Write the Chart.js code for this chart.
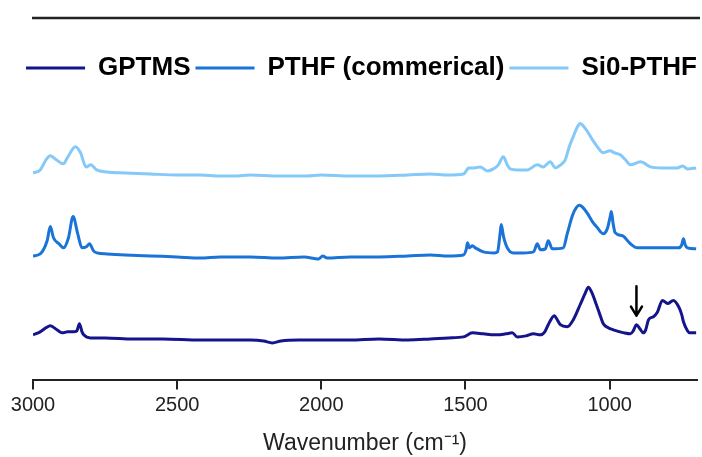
<!DOCTYPE html>
<html>
<head>
<meta charset="utf-8">
<script src="https://cdn.jsdelivr.net/npm/chart.js@4.4.1/dist/chart.umd.min.js"></script>
<style>
    html, body { margin: 0; padding: 0; background: #fff; }
    #wrap { width: 702px; height: 457px; }
</style>
</head>
<body>
<div id="wrap"><canvas id="ftir"></canvas></div>
<script>
// FTIR spectra, stacked with a vertical offset (a.u.)
var seriesNames = ['GPTMS', 'PTHF (commerical)', 'Si0-PTHF'];
var seriesColors = ['#14148c', '#1a74d8', '#84c9f8'];
var xTicks = [3000, 2500, 2000, 1500, 1000];

var gptmsWn = [3000, 2975, 2955, 2940, 2917, 2899, 2880, 2859, 2848, 2839, 2830, 2824, 2801, 2750, 2652, 2550,
    2420, 2305, 2246, 2200, 2170, 2140, 2080, 2000, 1900, 1800, 1700, 1622, 1560, 1507, 1476, 1438, 1400, 1389,
    1360, 1338, 1320, 1290, 1264, 1240, 1225, 1213, 1192, 1180, 1171, 1147, 1126, 1102, 1085, 1074, 1062, 1050,
    1035, 1022, 1005, 987, 950, 928, 918, 907, 895, 883, 875, 865, 848, 835, 817, 799, 779, 761, 750, 744, 730,
    723, 700];
var gptmsAbs = [0.45, 0.48, 0.52, 0.54, 0.50, 0.47, 0.48, 0.48, 0.49, 0.56, 0.48, 0.45, 0.42, 0.42, 0.41, 0.41,
    0.40, 0.40, 0.40, 0.39, 0.37, 0.39, 0.40, 0.40, 0.40, 0.41, 0.40, 0.41, 0.42, 0.43, 0.47, 0.46, 0.45, 0.45,
    0.46, 0.47, 0.43, 0.44, 0.46, 0.45, 0.48, 0.55, 0.64, 0.59, 0.55, 0.53, 0.60, 0.75, 0.86, 0.92, 0.87, 0.78,
    0.66, 0.56, 0.52, 0.50, 0.47, 0.46, 0.49, 0.55, 0.51, 0.47, 0.50, 0.60, 0.63, 0.67, 0.79, 0.76, 0.79, 0.73,
    0.65, 0.58, 0.49, 0.47, 0.47];

var pthfWn = [3000, 2975, 2951, 2940, 2929, 2910, 2894, 2877, 2861, 2845, 2830, 2815, 2804, 2790, 2778, 2743,
    2680, 2593, 2500, 2420, 2350, 2246, 2150, 2060, 2010, 1995, 1980, 1900, 1800, 1700, 1622, 1560, 1507, 1497,
    1493, 1486, 1476, 1466, 1438, 1400, 1389, 1380, 1376, 1368, 1355, 1334, 1300, 1264, 1251, 1240, 1223, 1213,
    1199, 1161, 1147, 1129, 1115, 1105, 1090, 1077, 1060, 1043, 1022, 1008, 998, 994, 988, 981, 956, 928, 904,
    860, 813, 761, 750, 744, 738, 730, 700];
var pthfAbs = [1.23, 1.25, 1.38, 1.52, 1.41, 1.35, 1.31, 1.41, 1.62, 1.45, 1.31, 1.32, 1.35, 1.28, 1.26, 1.25,
    1.24, 1.23, 1.22, 1.21, 1.22, 1.22, 1.21, 1.22, 1.20, 1.23, 1.21, 1.22, 1.22, 1.23, 1.24, 1.23, 1.24, 1.30,
    1.36, 1.31, 1.33, 1.31, 1.27, 1.26, 1.27, 1.45, 1.54, 1.42, 1.31, 1.26, 1.26, 1.27, 1.35, 1.29, 1.30, 1.38,
    1.30, 1.31, 1.45, 1.63, 1.71, 1.73, 1.70, 1.65, 1.57, 1.51, 1.45, 1.50, 1.62, 1.67, 1.55, 1.46, 1.43, 1.35,
    1.31, 1.31, 1.31, 1.31, 1.34, 1.40, 1.34, 1.31, 1.30];

var si0Wn = [3000, 2975, 2955, 2940, 2919, 2895, 2879, 2853, 2835, 2816, 2800, 2779, 2744, 2680, 2593, 2500,
    2420, 2350, 2300, 2246, 2150, 2050, 2000, 1900, 1800, 1700, 1622, 1560, 1507, 1495, 1490, 1470, 1449, 1424,
    1403, 1386, 1369, 1355, 1345, 1320, 1286, 1251, 1230, 1206, 1188, 1170, 1154, 1140, 1126, 1113, 1102, 1090,
    1077, 1060, 1043, 1022, 998, 985, 963, 945, 928, 893, 858, 820, 790, 765, 747, 730, 700];
var si0Abs = [2.05, 2.08, 2.18, 2.22, 2.18, 2.14, 2.21, 2.31, 2.25, 2.11, 2.13, 2.08, 2.06, 2.05, 2.04, 2.03,
    2.03, 2.02, 2.02, 2.03, 2.02, 2.02, 2.03, 2.02, 2.02, 2.03, 2.04, 2.03, 2.04, 2.08, 2.10, 2.10, 2.11, 2.07,
    2.09, 2.13, 2.21, 2.13, 2.09, 2.08, 2.08, 2.13, 2.11, 2.16, 2.10, 2.13, 2.18, 2.31, 2.41, 2.50, 2.54, 2.51,
    2.46, 2.38, 2.31, 2.25, 2.27, 2.25, 2.23, 2.18, 2.13, 2.16, 2.11, 2.10, 2.10, 2.10, 2.12, 2.09, 2.10];

// marker pointing at the GPTMS band near 907 cm-1
var arrowWn = 907;
var arrowFrom = 0.93;
var arrowTo = 0.64;

function toPoints(wn, abs) {
    return wn.map(function(w, i) {
        return { x: w, y: abs[i] };
    });
}

var spectra = [toPoints(gptmsWn, gptmsAbs), toPoints(pthfWn, pthfAbs), toPoints(si0Wn, si0Abs)];

Chart.defaults.font.family = '"Liberation Sans", Arial, sans-serif';
Chart.defaults.color = '#111';

// horizontal rule above the legend
var topRule = {
    id: 'topRule',
    afterDraw: function(chart) {
        var ctx = chart.ctx;
        ctx.save();
        ctx.strokeStyle = '#222';
        ctx.lineWidth = 2.5;
        ctx.beginPath();
        ctx.moveTo(chart.chartArea.left - 1, 18);
        ctx.lineTo(chart.width - 2, 18);
        ctx.stroke();
        ctx.restore();
    }
};

var bandArrow = {
    id: 'bandArrow',
    afterDatasetsDraw: function(chart) {
        var ctx = chart.ctx;
        var x = chart.scales.x.getPixelForValue(arrowWn);
        var y0 = chart.scales.y.getPixelForValue(arrowFrom);
        var y1 = chart.scales.y.getPixelForValue(arrowTo);
        ctx.save();
        ctx.strokeStyle = '#000';
        ctx.lineWidth = 2.5;
        ctx.lineCap = 'round';
        ctx.lineJoin = 'round';
        ctx.beginPath();
        ctx.moveTo(x, y0);
        ctx.lineTo(x, y1);
        ctx.moveTo(x - 5.5, y1 - 9);
        ctx.lineTo(x, y1);
        ctx.lineTo(x + 5.5, y1 - 9);
        ctx.stroke();
        ctx.restore();
    }
};

var datasets = seriesNames.map(function(name, i) {
    return {
        label: name,
        data: spectra[i],
        borderColor: seriesColors[i],
        backgroundColor: seriesColors[i],
        borderWidth: 3,
        pointRadius: 0,
        cubicInterpolationMode: 'monotone'
    };
});

new Chart(document.getElementById('ftir'), {
    type: 'line',
    data: { datasets: datasets },
    plugins: [topRule, bandArrow],
    options: {
        responsive: true,
        maintainAspectRatio: false,
        animation: false,
        layout: { padding: { top: 50, bottom: 0, left: 0, right: 0 } },
        plugins: {
            tooltip: { enabled: false },
            legend: {
                position: 'top',
                align: 'end',
                labels: {
                    usePointStyle: true,
                    pointStyle: 'line',
                    pointStyleWidth: 59,
                    padding: 5,
                    color: '#000',
                    font: { size: 26, weight: 'bold' }
                }
            }
        },
        scales: {
            x: {
                type: 'linear',
                reverse: true,
                min: 697,
                max: 3000,
                afterBuildTicks: function(scale) {
                    scale.ticks = xTicks.map(function(v) { return { value: v }; });
                },
                border: { display: true, color: '#222', width: 2 },
                grid: { display: true, drawOnChartArea: false, drawTicks: true, tickLength: 9, color: '#222', lineWidth: 2 },
                ticks: {
                    padding: 4,
                    color: '#222',
                    font: { size: 20 },
                    maxRotation: 0,
                    autoSkip: false,
                    callback: function(value) { return String(value); }
                },
                title: {
                    display: true,
                    text: 'Wavenumber (cm\u207B\u00B9)',
                    color: '#222',
                    font: { size: 23 },
                    padding: { top: 8, bottom: 0 }
                }
            },
            y: {
                min: 0,
                max: 2.86,
                display: true,
                border: { display: false },
                grid: { display: false },
                ticks: { display: false },
                afterFit: function(scale) { scale.width = 33; }
            },
            yRight: {
                position: 'right',
                display: true,
                border: { display: false },
                grid: { display: false },
                ticks: { display: false },
                afterFit: function(scale) { scale.width = 5; }
            }
        }
    }
});
</script>
</body>
</html>
